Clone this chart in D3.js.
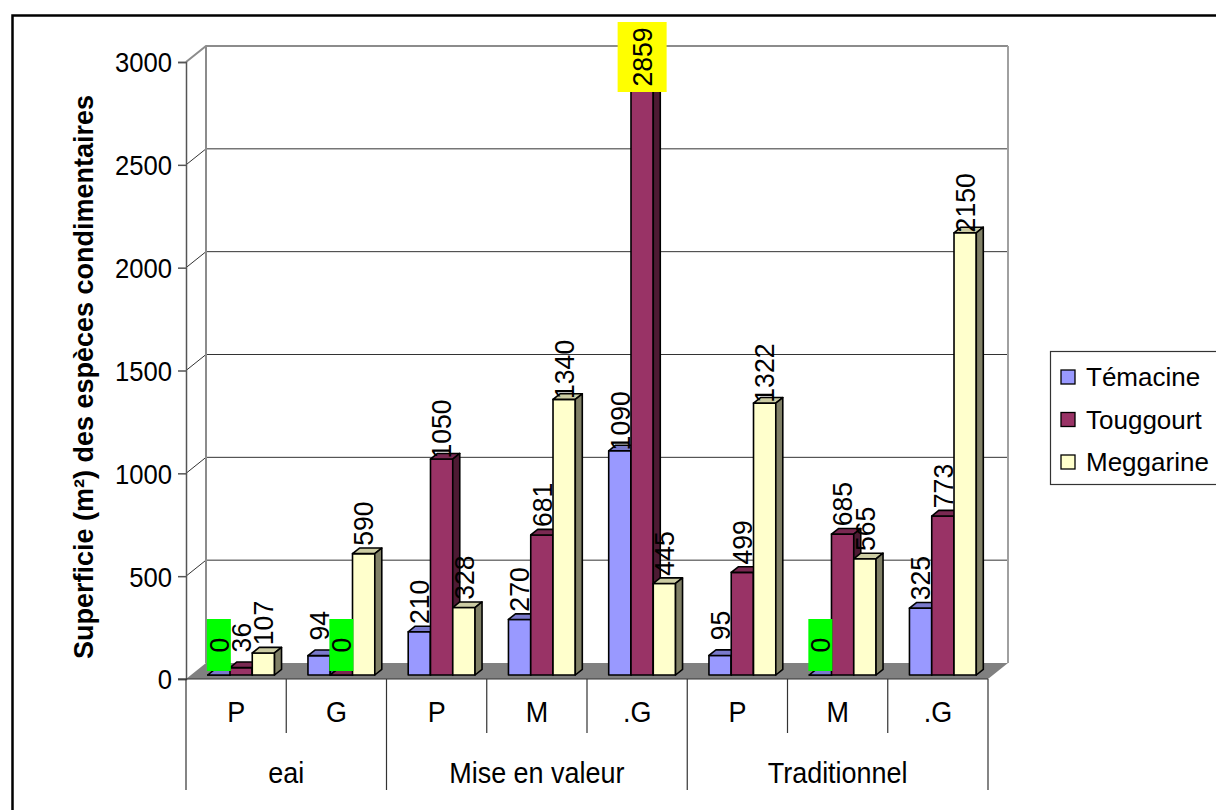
<!DOCTYPE html>
<html>
<head>
<meta charset="utf-8">
<script src="https://cdn.jsdelivr.net/npm/d3@7"></script>
<style>
  html, body { margin: 0; padding: 0; background: #ffffff; }
  svg { display: block; }
  text { font-family: "Liberation Sans", Arial, sans-serif; fill: #000; }
</style>
</head>
<body>
<svg id="chart" width="1216" height="810"></svg>
<script>
// Category axis: sub-categories and their parent groups
const categories = ["P", "G", "P", "M", ".G", "P", "M", ".G"];
const groupNames = ["eai", "Mise en valeur", "Traditionnel"];
const groupSizes = [2, 3, 3];

// Series (surface in m²)
const seriesNames = ["Témacine", "Touggourt", "Meggarine"];
const temacine  = [0, 94, 210, 270, 1090, 95, 0, 325];
const touggourt = [36, 0, 1050, 681, 2859, 499, 685, 773];
const meggarine = [107, 590, 328, 1340, 445, 1322, 565, 2150];

// Value axis ticks
const yTicks = [0, 500, 1000, 1500, 2000, 2500, 3000];

// Data labels shown on a coloured background: [series, category, colour]
const highlightedLabels = [
  [0, 0, "#00ff00"],
  [1, 1, "#00ff00"],
  [0, 6, "#00ff00"],
  [1, 4, "#ffff00"]
];

const seriesValues = [temacine, touggourt, meggarine];
const frontColors = ["#9999ff", "#993366", "#ffffcc"];

// shade a colour (factor < 1 darkens) for the lit 3D faces
function shade(c, f) {
  const r = d3.rgb(c);
  return d3.rgb(r.r * f, r.g * f, r.b * f).formatHex();
}

const svg = d3.select("#chart");

// Plot geometry
const x = d3.scaleBand().domain(d3.range(categories.length)).range([186, 988]).paddingInner(0).paddingOuter(0);
const xs = d3.scaleBand().domain(d3.range(seriesNames.length)).range([0, x.bandwidth()]).paddingInner(0).paddingOuter(0.75);
const y = d3.scaleLinear().domain([0, 3000]).range([679, 62]);

// oblique depth projection of the 3D box
const DEPTH_X = 20, DEPTH_Y = -16;
const P = (px, py, z) => [px + DEPTH_X * z, py + DEPTH_Y * z];
const Z0 = 0.25, Z1 = 0.6;   // bar depth inside the floor

// Outer chart frame
svg.append("rect")
  .attr("x", 12.5).attr("y", 15.5)
  .attr("width", 1240).attr("height", 820)
  .attr("fill", "none").attr("stroke", "#000").attr("stroke-width", 2.5);

const plot = svg.append("g");

// Floor
const [x0, x1] = x.range();
plot.append("polygon")
  .attr("points", [P(x0, y(0), 0), P(x1, y(0), 0), P(x1, y(0), 1), P(x0, y(0), 1)].map(p => p.join(",")).join(" "))
  .attr("fill", "#808080");

// Gridlines on the side and back walls
plot.selectAll("path.grid")
  .data(yTicks.filter(t => t > 0))
  .join("path")
  .attr("class", "grid")
  .attr("d", t => d3.line()([P(x0, y(t), 0), P(x0, y(t), 1), P(x1, y(t), 1)]))
  .attr("fill", "none")
  .attr("stroke", t => t === 3000 ? "#8c8c8c" : "#333")
  .attr("stroke-width", t => t === 3000 ? 2 : 1);

// Wall edges
plot.append("line")
  .attr("x1", P(x0, 0, 1)[0]).attr("x2", P(x0, 0, 1)[0])
  .attr("y1", P(0, y(3000), 1)[1]).attr("y2", P(0, y(0), 1)[1])
  .attr("stroke", "#8c8c8c").attr("stroke-width", 2);
plot.append("line")
  .attr("x1", P(x1, 0, 1)[0]).attr("x2", P(x1, 0, 1)[0])
  .attr("y1", P(0, y(3000), 1)[1]).attr("y2", P(0, y(0), 1)[1])
  .attr("stroke", "#a0a0a0").attr("stroke-width", 2);

// Value axis
const yAxis = d3.axisLeft(y).tickValues(yTicks).tickSize(8).tickPadding(0).tickFormat(d3.format("d"));
const yg = plot.append("g").attr("transform", `translate(${x0},0)`).call(yAxis);
yg.select(".domain").attr("stroke", "#555").attr("stroke-width", 1.5);
yg.selectAll(".tick line").attr("stroke", "#555").attr("stroke-width", 1.5);
yg.selectAll(".tick text")
  .attr("x", null).attr("dy", null)
  .attr("font-size", 28.5)
  .attr("font-family", "Liberation Sans, Arial, sans-serif")
  .attr("dominant-baseline", "central")
  .attr("transform", "translate(-14,0) scale(0.9,1)");

// Category axis: baseline, dividers and two label rows
const catAxis = plot.append("g");
catAxis.append("line")
  .attr("x1", x0 - 8).attr("x2", x1)
  .attr("y1", y(0)).attr("y2", y(0))
  .attr("stroke", "#333").attr("stroke-width", 1.2);

const groupStarts = groupSizes.reduce((acc, n) => { acc.push(acc[acc.length - 1] + n); return acc; }, [0]);
const boundaries = d3.range(categories.length + 1);
catAxis.selectAll("line.div")
  .data(boundaries)
  .join("line")
  .attr("class", "div")
  .attr("x1", i => i < categories.length ? x(i) : x1)
  .attr("x2", i => i < categories.length ? x(i) : x1)
  .attr("y1", y(0))
  .attr("y2", i => groupStarts.includes(i) ? 790 : 733)
  .attr("stroke", "#333").attr("stroke-width", 1.2);

catAxis.selectAll("text.cat")
  .data(categories)
  .join("text")
  .attr("class", "cat")
  .attr("transform", (d, i) => `translate(${x(i) + x.bandwidth() / 2},712) scale(0.93,1)`)
  .attr("text-anchor", "middle")
  .attr("dominant-baseline", "central")
  .attr("font-size", 29)
  .text(d => d);

catAxis.selectAll("text.group")
  .data(groupNames)
  .join("text")
  .attr("class", "group")
  .attr("transform", (d, i) => {
    const a = x(groupStarts[i]);
    const b = groupStarts[i + 1] < categories.length ? x(groupStarts[i + 1]) : x1;
    return `translate(${(a + b) / 2},773) scale(0.93,1)`;
  })
  .attr("text-anchor", "middle")
  .attr("dominant-baseline", "central")
  .attr("font-size", 29)
  .text(d => d);

// Axis title
svg.append("text")
  .attr("transform", "translate(84,377) rotate(-90)")
  .attr("text-anchor", "middle")
  .attr("dominant-baseline", "central")
  .attr("font-size", 27)
  .attr("font-weight", "bold")
  .text("Superficie (m²) des espèces condimentaires");

// Bars (3D columns)
const bars = [];
categories.forEach((c, ci) => {
  seriesValues.forEach((vals, si) => {
    bars.push({ ci, si, v: vals[ci] });
  });
});

function barGeom(d) {
  const bx0 = x(d.ci) + xs(d.si);
  const bx1 = bx0 + xs.bandwidth();
  const yt = y(d.v), yb = y(0);
  return { bx0, bx1, yt, yb };
}

const barG = plot.selectAll("g.bar")
  .data(bars)
  .join("g")
  .attr("class", "bar");

const pts = arr => arr.map(p => p.join(",")).join(" ");

barG.append("polygon")   // front face
  .attr("points", d => { const g = barGeom(d); return pts([P(g.bx0, g.yt, Z0), P(g.bx1, g.yt, Z0), P(g.bx1, g.yb, Z0), P(g.bx0, g.yb, Z0)]); })
  .attr("fill", d => frontColors[d.si]);
barG.append("polygon")   // top face
  .attr("points", d => { const g = barGeom(d); return pts([P(g.bx0, g.yt, Z0), P(g.bx1, g.yt, Z0), P(g.bx1, g.yt, Z1), P(g.bx0, g.yt, Z1)]); })
  .attr("fill", d => shade(frontColors[d.si], 0.8));
barG.append("polygon")   // right side face
  .attr("points", d => { const g = barGeom(d); return pts([P(g.bx1, g.yt, Z0), P(g.bx1, g.yt, Z1), P(g.bx1, g.yb, Z1), P(g.bx1, g.yb, Z0)]); })
  .attr("fill", d => shade(frontColors[d.si], 0.5));
barG.selectAll("polygon")
  .attr("stroke", "#000").attr("stroke-width", 1.6).attr("stroke-linejoin", "round");

// Data labels (rotated)
const labelOffset = 30;
const labelG = plot.selectAll("g.lbl")
  .data(bars)
  .join("g")
  .attr("class", "lbl")
  .attr("transform", d => {
    const g = barGeom(d);
    const cx = P((g.bx0 + g.bx1) / 2, 0, Z0)[0];
    const cy = P(0, g.yt, Z0)[1] - labelOffset;
    return `translate(${cx},${cy})`;
  });

const highlightBox = { "#00ff00": [24, 52], "#ffff00": [49, 70] };
labelG.each(function (d) {
  const h = highlightedLabels.find(e => e[0] === d.si && e[1] === d.ci);
  if (h) {
    const [w, hh] = highlightBox[h[2]];
    d3.select(this).append("rect")
      .attr("x", -w / 2).attr("y", -hh / 2)
      .attr("width", w).attr("height", hh)
      .attr("fill", h[2]);
  }
});
labelG.append("text")
  .attr("transform", "rotate(-90) scale(0.95,1)")
  .attr("text-anchor", "middle")
  .attr("dominant-baseline", "central")
  .attr("font-size", 28)
  .text(d => d.v);

// Legend
const legend = svg.append("g");
legend.append("rect")
  .attr("x", 1050.5).attr("y", 351.5)
  .attr("width", 200).attr("height", 133)
  .attr("fill", "#fff").attr("stroke", "#333").attr("stroke-width", 1.2);
const legItems = legend.selectAll("g.item")
  .data(seriesNames)
  .join("g")
  .attr("class", "item")
  .attr("transform", (d, i) => `translate(1061,${377 + i * 42.5})`);
legItems.append("rect")
  .attr("x", 0).attr("y", -7)
  .attr("width", 14).attr("height", 14)
  .attr("fill", (d, i) => frontColors[i])
  .attr("stroke", "#000").attr("stroke-width", 1.3);
legItems.append("text")
  .attr("x", 25).attr("y", 0)
  .attr("dominant-baseline", "central")
  .attr("font-size", 26)
  .text(d => d);
</script>
</body>
</html>
